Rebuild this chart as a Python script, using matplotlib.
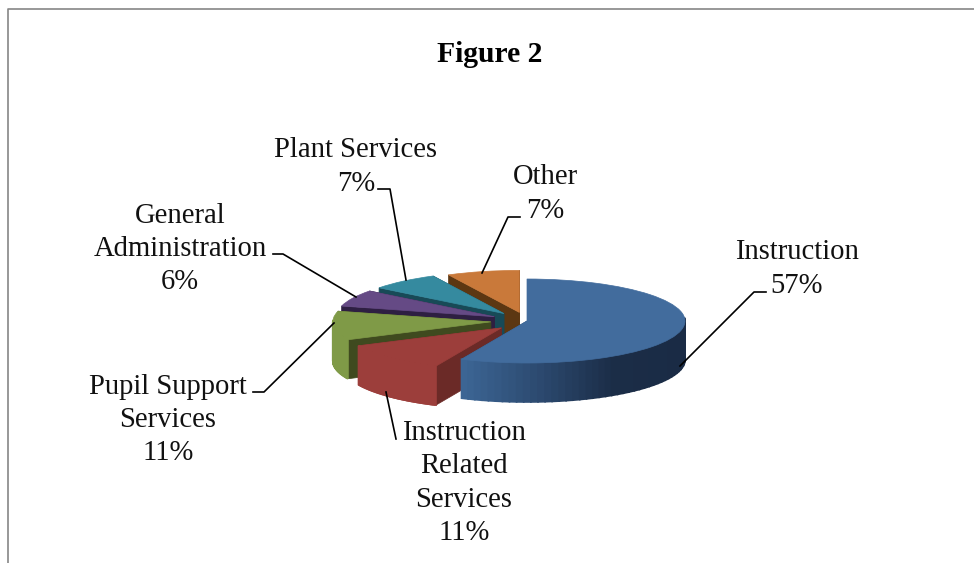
import numpy as np
import matplotlib
matplotlib.use('Agg')
from matplotlib import pyplot as plt
from matplotlib.colors import to_rgb

# shares, they round to the printed labels
names = ['Instruction', 'Instruction\nRelated\nServices', 'Pupil Support\nServices',
         'General\nAdministration', 'Plant Services', 'Other']
shares = [56.8, 11.2, 11.1, 6.4, 7.1, 7.4]
explode = [0, 0.23, 0.23, 0.23, 0.23, 0.21]

top_colors = ['#426c9d', '#9c3e3b', '#7f9a47', '#654a85', '#358a9f', '#c9793a']
wall_colors = ['#2c4a70', '#6b2a27', '#3f4a1f', '#2e1f42', '#184a57', '#5c3712']
rim_colors = [['#3c6594', '#2c4a70', '#1b2d47', '#1a2b45'],
              ['#9c3e3b', '#9c3e3b'],
              ['#7f9a47', '#7f9a47'],
              ['#4d3868', '#4d3868'],
              ['#286a7a', '#286a7a'],
              ['#9a5c2a', '#9a5c2a']]

# pixel geometry of the flattened pie
cx, cy = 527, 321
rx, ry = 158, 42
depth = 39 / ry

# label centre x, centre y
label_pos = [(797, 269), (464, 483), (168, 420), (180, 249), (356, 167), (545, 194)]
leaders = [[(680, 366), (754, 292), (766, 292)],
           [(386, 392), (396, 439)],
           [(334, 323), (264, 392), (253, 392)],
           [(356, 297), (283, 254), (273, 254)],
           [(406, 280), (390, 189), (378, 189)],
           [(482, 273), (508, 217), (520, 217)]]

fig = plt.figure(figsize=(9.74, 5.63), dpi=100)
ax = fig.add_axes([0, 0, 1, 1])
wedges, _ = ax.pie(shares, explode=explode, colors=top_colors, startangle=90,
                   counterclock=False, radius=1)
ax.set_aspect('auto')
ax.set_xlim(-cx / rx, (974 - cx) / rx)
ax.set_ylim((cy - 563) / ry, cy / ry)


def rim_color(stops, t):
    rgb = np.array([to_rgb(c) for c in stops])
    pos = np.linspace(0, 1, len(stops))
    return [np.interp(t, pos, rgb[:, k]) for k in range(3)]


# back to front: Other first, Instruction last
for z, i in enumerate(range(len(shares) - 1, -1, -1)):
    w = wedges[i]
    x0, y0 = w.center
    a1, a2 = np.radians(w.theta1), np.radians(w.theta2)
    base = z * 10
    for a in (a1, a2):
        xe, ye = x0 + np.cos(a), y0 + np.sin(a)
        ax.fill([x0, xe, xe, x0], [y0, ye, ye - depth, y0 - depth],
                color=wall_colors[i], lw=0.5, zorder=base + 1)
    angles = np.linspace(a1, a2, 80)
    xs = x0 + np.cos(angles)
    ys = y0 + np.sin(angles)
    left, right = xs.min(), xs.max()
    for k in range(len(angles) - 1):
        if np.sin(angles[k]) > 0.05:
            continue
        t = (xs[k] - left) / (right - left)
        ax.fill([xs[k], xs[k + 1], xs[k + 1], xs[k]],
                [ys[k], ys[k + 1], ys[k + 1] - depth, ys[k] - depth],
                color=rim_color(rim_colors[i], t), lw=1.2, zorder=base + 2)
    w.set_edgecolor(top_colors[i])
    w.set_linewidth(0.5)
    w.set_zorder(base + 3)

# labels and frame in pixel coordinates
over = fig.add_axes([0, 0, 1, 1], facecolor='none')
over.set_xlim(0, 974)
over.set_ylim(563, 0)
over.axis('off')

over.plot([8, 8, 974], [563, 9, 9], color='#868686', lw=1.2)
over.text(490, 55, 'Figure 2', family='Liberation Serif', weight='bold', fontsize=21.3,
          ha='center', va='center')
for name, share, (lx, ly), pts in zip(names, shares, label_pos, leaders):
    over.text(lx, ly, f'{name}\n{round(share)}%', family='Liberation Serif', fontsize=20.6,
              ha='center', va='center', linespacing=1.36, color='#111111')
    over.plot([p[0] for p in pts], [p[1] for p in pts], color='black', lw=1.2)

fig.savefig('out.png', dpi=100)
